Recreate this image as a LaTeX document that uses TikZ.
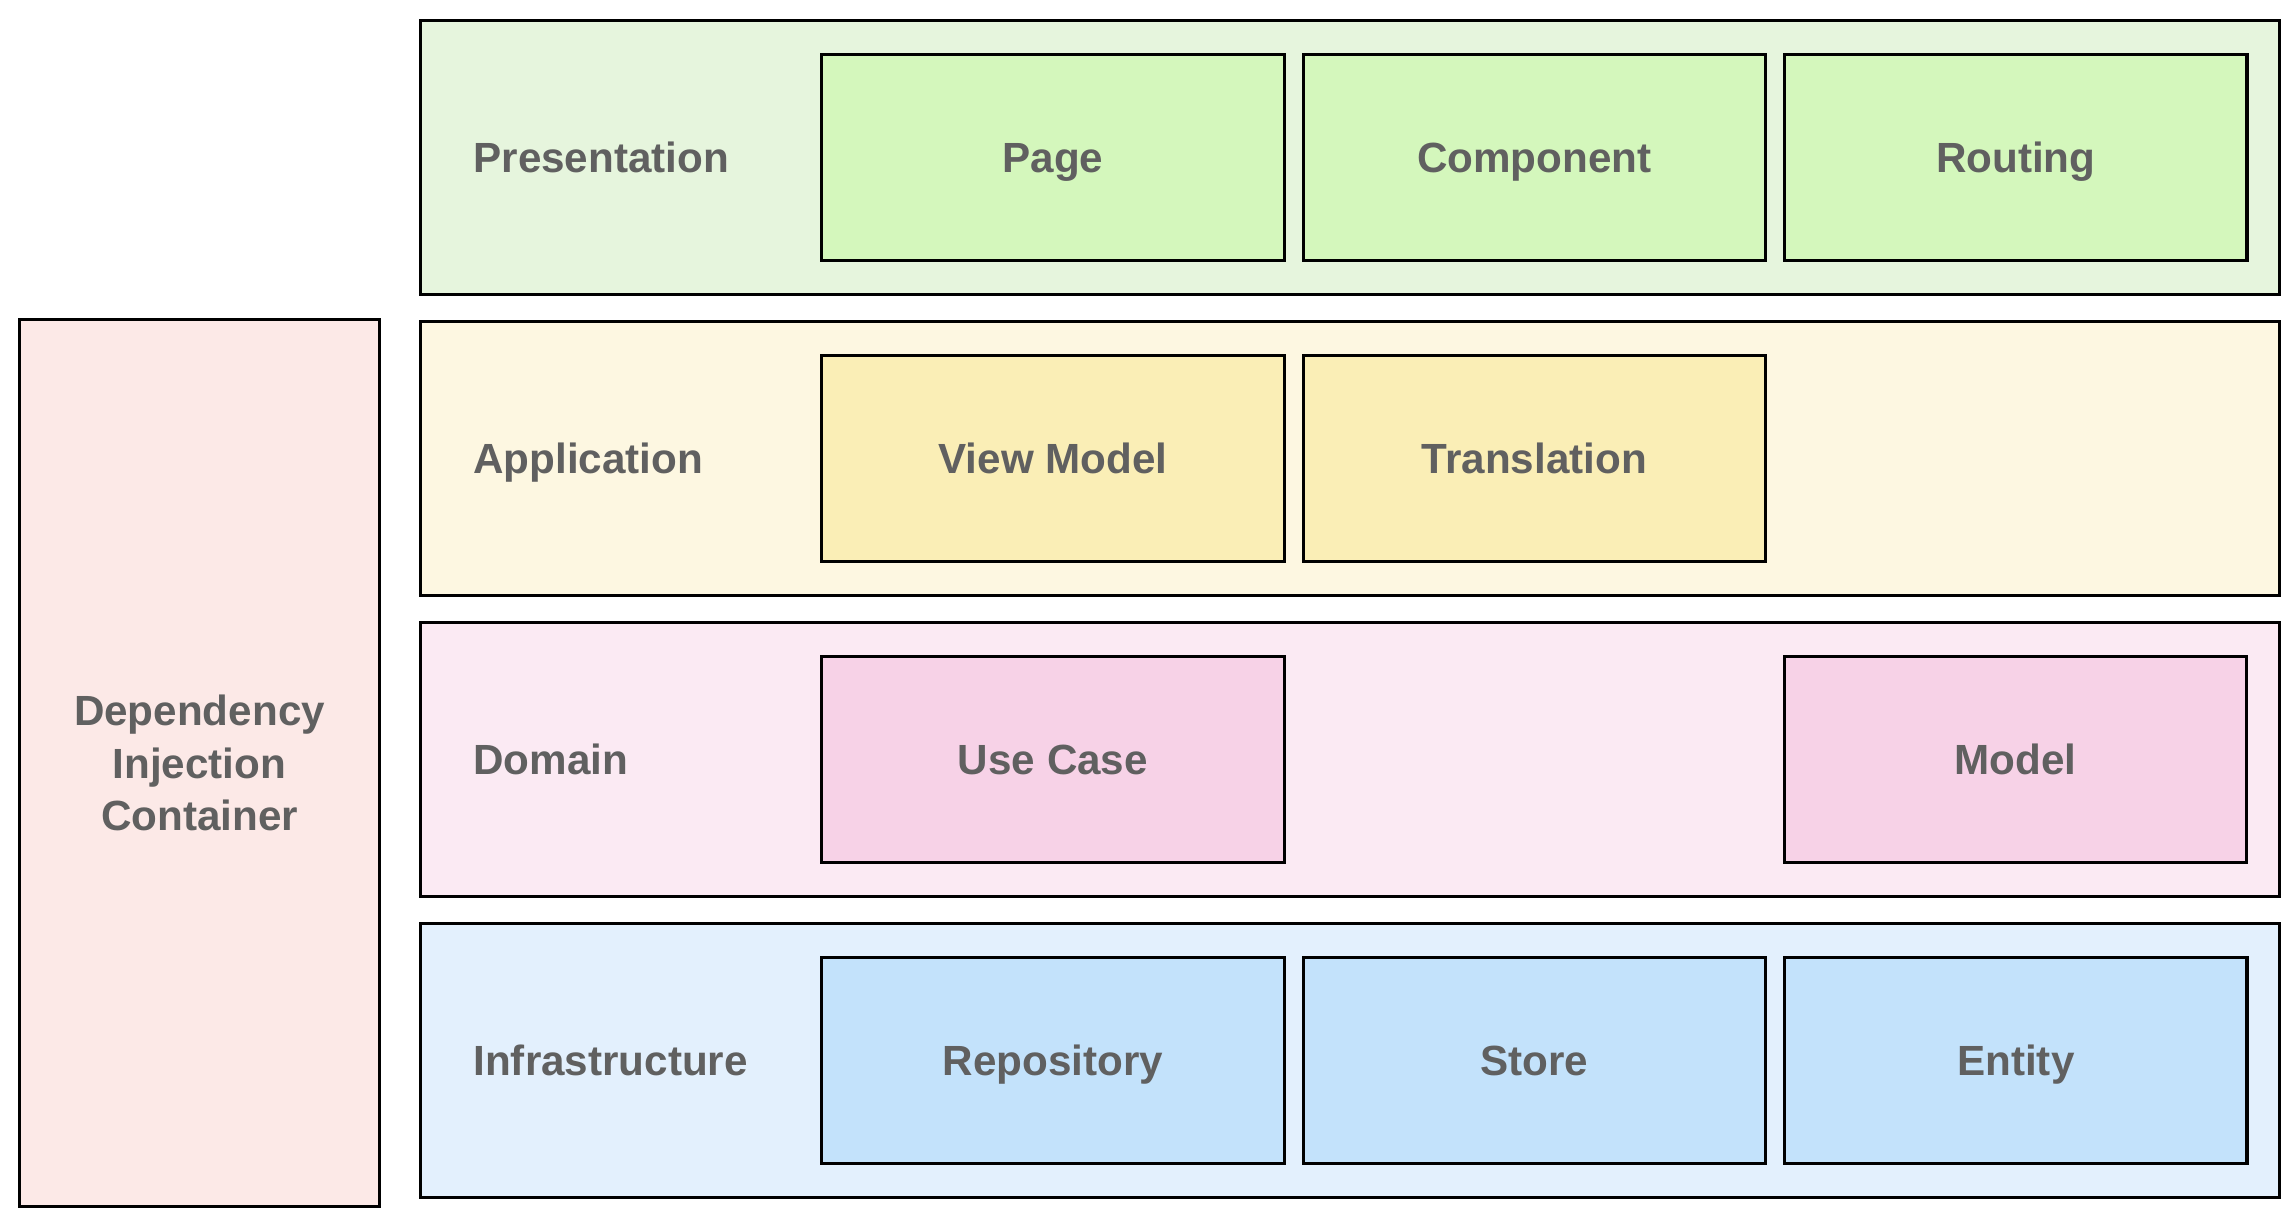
\documentclass[tikz,border=0pt]{standalone}
\usepackage{fontspec}
\setmainfont{Liberation Sans}
\usepackage{tikz}
\usetikzlibrary{positioning}

\definecolor{txt}{HTML}{606060}
\definecolor{presout}{HTML}{E6F5DD}
\definecolor{presin}{HTML}{D4F7BC}
\definecolor{appout}{HTML}{FDF7E1}
\definecolor{appin}{HTML}{FAEEB6}
\definecolor{domout}{HTML}{FBEAF3}
\definecolor{domin}{HTML}{F7D2E7}
\definecolor{infout}{HTML}{E3F0FD}
\definecolor{infin}{HTML}{C3E2FB}
\definecolor{diback}{HTML}{FCE9E7}

\begin{document}
\begin{tikzpicture}[
    x=0.01cm, y=-0.01cm,
    layer/.style={draw, line width=0.9pt, minimum width=18.58cm, minimum height=2.74cm, anchor=north west},
    part/.style={draw, line width=0.9pt, minimum width=4.62cm, minimum height=2.06cm, text=txt,
                 text height=0.82em, text depth=0em, font=\fontsize{12}{15}\selectfont\bfseries},
    lbl/.style={text=txt, text height=0.82em, text depth=0em, font=\fontsize{12}{15}\selectfont\bfseries}
]
    \useasboundingbox (0,0) rectangle (2296,1222);

    % layers
    \node[layer, fill=presout] (pres) at (419,19) {};
    \node[layer, fill=appout] (app) at (419,320) {};
    \node[layer, fill=domout] (dom) at (419,621) {};
    \node[layer, fill=infout] (inf) at (419,922) {};

    \node[lbl, right=0.42cm of pres.west] (preslbl) {Presentation};
    \node[lbl, right=0.42cm of app.west] (applbl) {Application};
    \node[lbl, right=0.42cm of dom.west] (domlbl) {Domain};
    \node[lbl, right=0.42cm of inf.west] (inflbl) {Infrastructure};

    % presentation
    \node[part, fill=presin, right=4.01cm of pres.west] (page) {Page};
    \node[part, fill=presin, right=0.16cm of page] (component) {Component};
    \node[part, fill=presin, right=0.16cm of component] (routing) {Routing};

    % application
    \node[part, fill=appin, right=4.01cm of app.west] (viewmodel) {View Model};
    \node[part, fill=appin, right=0.16cm of viewmodel] (translation) {Translation};

    % domain
    \node[part, fill=domin, right=4.01cm of dom.west] (usecase) {Use Case};
    \node[part, fill=domin, right=4.97cm of usecase] (model) {Model};

    % infrastructure
    \node[part, fill=infin, right=4.01cm of inf.west] (repository) {Repository};
    \node[part, fill=infin, right=0.16cm of repository] (store) {Store};
    \node[part, fill=infin, right=0.16cm of store] (entity) {Entity};

    % DI container
    \node[draw, line width=0.9pt, fill=diback, minimum width=3.59cm, minimum height=8.86cm,
          align=center, text=txt, font=\fontsize{12}{15}\selectfont\bfseries] (dic) at (199.5,763)
          {Dependency\\Injection\\Container};
\end{tikzpicture}
\end{document}
